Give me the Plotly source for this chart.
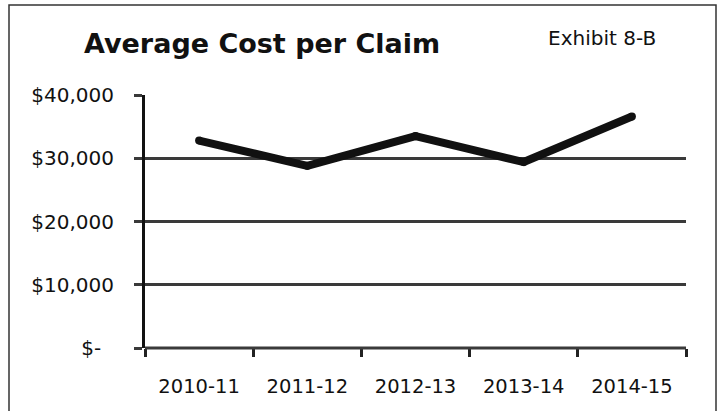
import plotly.graph_objects as go

# data
years = ["2010-11", "2011-12", "2012-13", "2013-14", "2014-15"]
avg_cost = [32800, 28800, 33500, 29400, 36600]
y_ticks = [0, 10000, 20000, 30000, 40000]
y_tick_labels = ["$-\u00a0\u00a0", "$10,000", "$20,000", "$30,000", "$40,000"]

W, H = 718, 411
L, R, T, B = 145, 32, 95, 63
pw, ph = W - L - R, H - T - B


def px(x):
    return (x - L) / pw


def py(y):
    return (H - B - y) / ph


fig = go.Figure()
fig.add_trace(go.Scatter(
    x=years, y=avg_cost,
    mode="lines+markers",
    line=dict(color="#111111", width=8),
    marker=dict(color="#111111", size=8),
    hoverinfo="skip",
))

fig.update_layout(
    width=W, height=H,
    margin=dict(l=L, r=R, t=T, b=B),
    paper_bgcolor="white", plot_bgcolor="white",
    showlegend=False,
    font=dict(family="DejaVu Sans", color="#111111", size=20),
    xaxis=dict(
        type="category", tickson="boundaries", range=[-0.5, 4.5],
        showgrid=False, showline=False, zeroline=False,
        ticks="outside", ticklen=8, tickwidth=3, tickcolor="#222222",
        ticklabelstandoff=24,
        tickfont=dict(size=19.5),
    ),
    yaxis=dict(
        range=[0, 40000], tickvals=y_ticks, ticktext=y_tick_labels,
        showgrid=True, gridcolor="#3a3a3a", gridwidth=3,
        zeroline=False,
        showline=True, linecolor="#111111", linewidth=3,
        ticks="outside", ticklen=8, tickwidth=3, tickcolor="#3a3a3a",
        ticklabelstandoff=16,
        tickfont=dict(size=20),
    ),
    shapes=[
        dict(type="line", xref="paper", yref="paper",
             x0=0, x1=1, y0=0, y1=0,
             line=dict(color="#3a3a3a", width=3)),
        dict(type="rect", xref="paper", yref="paper",
             x0=px(9), x1=px(716), y0=py(420), y1=py(5),
             line=dict(color="#333333", width=1.5)),
    ],
    annotations=[
        dict(text="<b>Average Cost per Claim</b>", xref="paper", yref="paper",
             x=px(262), y=py(43), xanchor="center", yanchor="middle",
             showarrow=False, font=dict(size=27, color="#111111")),
        dict(text="Exhibit 8-B", xref="paper", yref="paper",
             x=px(602), y=py(38), xanchor="center", yanchor="middle",
             showarrow=False, font=dict(size=20, color="#111111")),
    ],
)

# browser default body margin would shift the chart by 8px
fig.write_html("out.html", config={"displayModeBar": False},
               post_script="document.body.style.margin='0';")
